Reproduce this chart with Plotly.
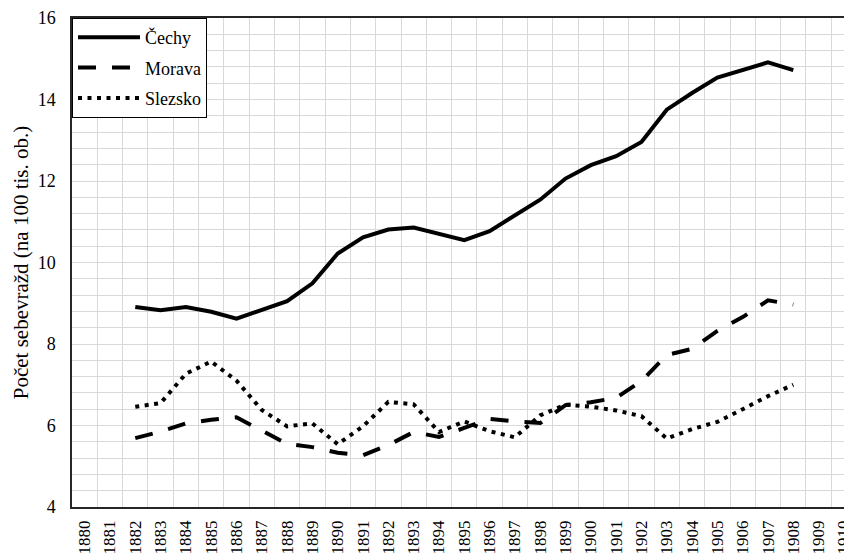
import plotly.graph_objects as go

# all categories on the x axis
years = ["1880", "1881", "1882", "1883", "1884", "1885", "1886", "1887", "1888",
         "1889", "1890", "1891", "1892", "1893", "1894", "1895", "1896", "1897",
         "1898", "1899", "1900", "1901", "1902", "1903", "1904", "1905", "1906",
         "1907", "1908", "1909", "1910"]

# years with data
data_years = years[2:29]

cechy = [8.91, 8.83, 8.91, 8.79, 8.62, 8.84, 9.05, 9.49, 10.22, 10.62, 10.81,
         10.86, 10.70, 10.55, 10.77, 11.15, 11.54, 12.06, 12.39, 12.61, 12.96,
         13.75, 14.16, 14.54, 14.72, 14.91, 14.72]
morava = [5.69, 5.85, 6.05, 6.14, 6.20, 5.87, 5.55, 5.47, 5.33, 5.27, 5.52,
          5.84, 5.72, 5.94, 6.16, 6.10, 6.06, 6.50, 6.57, 6.68, 7.09, 7.73,
          7.88, 8.32, 8.66, 9.07, 8.97]
slezsko = [6.46, 6.55, 7.27, 7.57, 7.10, 6.38, 5.98, 6.05, 5.54, 5.98, 6.58,
           6.52, 5.84, 6.10, 5.86, 5.71, 6.25, 6.51, 6.46, 6.37, 6.23, 5.68,
           5.91, 6.09, 6.40, 6.72, 7.00]

y_ticks = [4, 6, 8, 10, 12, 14, 16]

FONT = "Liberation Serif, Times New Roman, serif"
GRID = "#d9d9d9"
AXIS = "#262626"

fig = go.Figure()

series = [
    ("Čechy", cechy, "solid"),
    ("Morava", morava, "18px,16px"),
    ("Slezsko", slezsko, "4px,5.5px"),
]
for name, values, dash in series:
    fig.add_trace(
        go.Scatter(
            x=data_years,
            y=values,
            name=name,
            mode="lines",
            legendgroup=name,
            line=dict(color="black", width=4, dash=dash),
        )
    )

# the page body adds an 8px margin, so the figure is 8px smaller than the window
fig.update_layout(
    width=844,
    height=546,
    margin=dict(l=64, r=0, t=10, b=47),
    paper_bgcolor="white",
    plot_bgcolor="white",
    font=dict(family=FONT, size=18, color="black"),
    showlegend=True,
    legend=dict(
        x=0, y=1, xanchor="left", yanchor="top",
        bgcolor="white",
        bordercolor="black",
        borderwidth=1,
        font=dict(family=FONT, size=18, color="black"),
        itemwidth=62,
        tracegroupgap=4,
        traceorder="grouped",
    ),
    xaxis=dict(
        type="category",
        categoryorder="array",
        categoryarray=years,
        tickvals=years,
        range=[-0.5, 30.32],
        tickson="boundaries",
        ticks="",
        showgrid=True,
        gridcolor=GRID,
        gridwidth=1,
        showline=True,
        linecolor=AXIS,
        linewidth=1.5,
        mirror=True,
        tickangle=-90,
        tickfont=dict(family=FONT, size=17, color="black"),
        ticklabelstandoff=5,
        ticklabeloverflow="allow",
        zeroline=False,
        automargin=False,
    ),
    yaxis=dict(
        range=[4, 16],
        tickvals=y_ticks,
        ticks="",
        showgrid=True,
        gridcolor=GRID,
        gridwidth=1,
        minor=dict(dtick=0.4, tick0=0, showgrid=True, gridcolor=GRID, gridwidth=1),
        showline=True,
        linecolor=AXIS,
        linewidth=1.5,
        tickfont=dict(family=FONT, size=18, color="black"),
        ticklabelstandoff=11,
        ticklabeloverflow="allow",
        zeroline=False,
        automargin=False,
        title=dict(
            text="Počet sebevražd (na 100 tis. ob.)",
            font=dict(family=FONT, size=21, color="black"),
            standoff=3,
        ),
    ),
)

fig.write_html("out.html")
